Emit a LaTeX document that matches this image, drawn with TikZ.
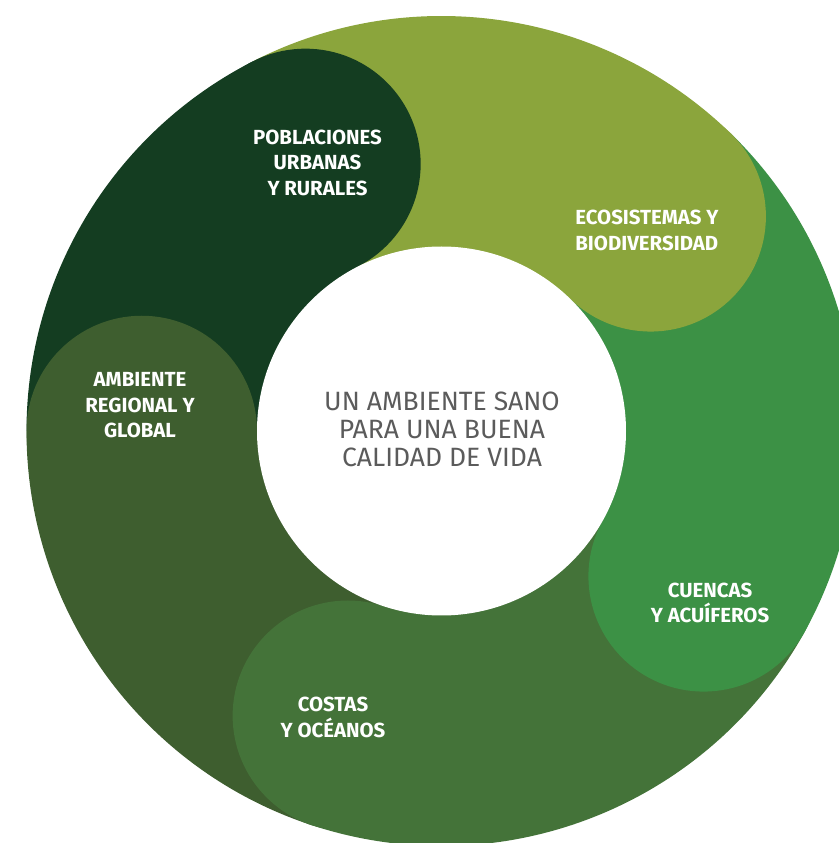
\documentclass[tikz,border=0pt]{standalone}
\usepackage{fontspec}
\setmainfont{Fira Sans}
\definecolor{cDark}{HTML}{143D21}
\definecolor{cOlive}{HTML}{8BA53C}
\definecolor{cGreen}{HTML}{3C9145}
\definecolor{cCostas}{HTML}{447339}
\definecolor{cAmb}{HTML}{3E5E2F}
\definecolor{cText}{HTML}{5B5B5B}
\begin{document}
\begin{tikzpicture}[x=0.5pt,y=0.5pt,
  lbl/.style={text=white,font=\fontsize{10.2pt}{12.75pt}\selectfont\bfseries,align=center,inner sep=0pt},
  ctr/.style={text=cText,font=\fontsize{13.25pt}{14pt}\selectfont,align=center,inner sep=0pt}]
\useasboundingbox (0,0) rectangle (839,843);
\clip (0,0) rectangle (839,843);
\coordinate (C) at (441.5,412);
\def\Ro{415}
\def\Ri{184.5}
\def\Rm{299.75}
\def\Rc{115.25}
% sectors
\fill[cDark]   (C) -- ([shift={(C)}]117:\Ro) arc[start angle=117, end angle=180, radius=\Ro] -- cycle;
\fill[cOlive]  (C) -- ([shift={(C)}]45.75:\Ro) arc[start angle=45.75, end angle=117, radius=\Ro] -- cycle;
\fill[cGreen]  (C) -- ([shift={(C)}]-29:\Ro) arc[start angle=-29, end angle=45.75, radius=\Ro] -- cycle;
\fill[cCostas] (C) -- ([shift={(C)}]-108.2:\Ro) arc[start angle=-108.2, end angle=-29, radius=\Ro] -- cycle;
\fill[cAmb]    (C) -- ([shift={(C)}]180:\Ro) arc[start angle=180, end angle=251.8, radius=\Ro] -- cycle;
% caps
\fill[cDark]   ([shift={(C)}]117:\Rm) circle[radius=\Rc];
\fill[cOlive]  ([shift={(C)}]45.75:\Rm) circle[radius=\Rc];
\fill[cGreen]  ([shift={(C)}]-29:\Rm) circle[radius=\Rc];
\fill[cCostas] ([shift={(C)}]-108.2:\Rm) circle[radius=\Rc];
\fill[cAmb]    ([shift={(C)}]180:\Rm) circle[radius=\Rc];
% inner disc
\fill[white] (C) circle[radius=\Ri];
% labels
\node[lbl] (pob) at (317.5,680.5) {POBLACIONES\\URBANAS\\ Y RURALES};
\node[lbl,align=left] (eco) at (647,612.5) {ECOSISTEMAS Y\\BIODIVERSIDAD};
\node[lbl] (amb) at (140,437.5) {AMBIENTE\\REGIONAL Y\\GLOBAL};
\node[lbl] (cue) at (710,240) {CUENCAS\\Y ACUÍFEROS};
\node[lbl] (cos) at (333,125.5) {COSTAS\\Y OCÉANOS};
\node[ctr] (mid) at (442,413.3) {UN AMBIENTE SANO\\PARA UNA BUENA\\CALIDAD DE VIDA};
\end{tikzpicture}
\end{document}
